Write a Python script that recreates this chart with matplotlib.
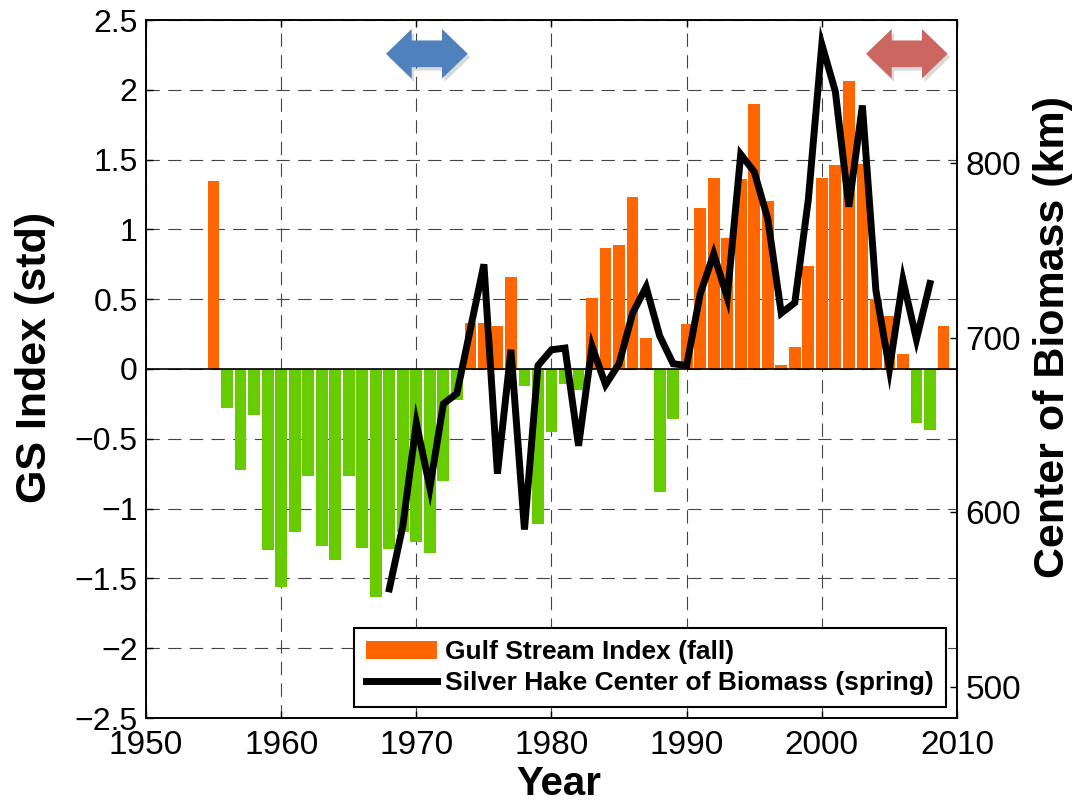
import numpy as np
import matplotlib
matplotlib.use('Agg')
import matplotlib.pyplot as plt
from matplotlib.patches import Polygon, Patch
from matplotlib.lines import Line2D
from matplotlib.ticker import FuncFormatter

plt.rcParams['font.family'] = ['Liberation Sans', 'DejaVu Sans']

# Gulf Stream index (fall), std units
gs_years = list(range(1955, 2010))
gs_index = [1.35, -0.28, -0.72, -0.33, -1.30, -1.56, -1.17, -0.77, -1.27, -1.37,
            -0.77, -1.28, -1.63, -1.29, -1.17, -1.24, -1.32, -0.80, -0.22, 0.33,
            0.33, 0.31, 0.66, -0.12, -1.11, -0.45, -0.11, -0.15, 0.51, 0.87,
            0.89, 1.23, 0.22, -0.88, -0.36, 0.32, 1.15, 1.37, 0.94, 1.36,
            1.90, 1.20, 0.03, 0.16, 0.74, 1.37, 1.46, 2.06, 1.47, 0.50,
            0.38, 0.11, -0.39, -0.44, 0.31]

# Silver hake center of biomass (spring), km
hake_years = list(range(1968, 2009))
hake_cob = [556, 592, 651, 614, 662, 668, 705, 742, 622, 693,
            590, 684, 693, 694, 638, 695, 673, 685, 714, 729,
            701, 685, 684, 725, 748, 723, 805, 795, 768, 714,
            720, 779, 868, 841, 775, 833, 727, 682, 733, 699, 731]

x_ticks = [1950, 1960, 1970, 1980, 1990, 2000, 2010]
left_ticks = [2.5, 2, 1.5, 1, 0.5, 0, -0.5, -1, -1.5, -2, -2.5]
right_ticks = [500, 600, 700, 800]

ORANGE = '#ff6600'
GREEN = '#66cc00'


def double_arrow(ax, x0, x1, yc, color, head=0.0317, half_h=0.0355, half_s=0.0191):
    # two-headed block arrow, axes fraction coordinates
    verts = [(x0, yc), (x0 + head, yc + half_h), (x0 + head, yc + half_s),
             (x1 - head, yc + half_s), (x1 - head, yc + half_h), (x1, yc),
             (x1 - head, yc - half_h), (x1 - head, yc - half_s),
             (x0 + head, yc - half_s), (x0 + head, yc - half_h)]
    shadow = [(vx + 0.003, vy - 0.005) for vx, vy in verts]
    ax.add_patch(Polygon(shadow, closed=True, transform=ax.transAxes,
                         facecolor='#000000', alpha=0.15, edgecolor='none', zorder=5))
    ax.add_patch(Polygon(verts, closed=True, transform=ax.transAxes,
                         facecolor=color, edgecolor='none', zorder=6))


fig = plt.figure(figsize=(10.77, 8.07), dpi=100)
ax1 = fig.add_axes([146/1077, 1 - 718/807, 811/1077, 698/807])

colors = [ORANGE if v >= 0 else GREEN for v in gs_index]
ax1.bar(gs_years, gs_index, width=0.87, color=colors, edgecolor='none', zorder=2)
ax1.axhline(0, color='k', lw=1.2, zorder=3)

ax1.set_xlim(1950, 2010)
ax1.set_ylim(-2.5, 2.5)
ax1.set_xticks(x_ticks)
ax1.set_yticks(left_ticks)
ax1.yaxis.set_major_formatter(FuncFormatter(lambda v, p: ('%g' % v).replace('-', '\u2212')))
ax1.grid(True, color='#444444', lw=0.8, linestyle=(0, (12, 7.5)), zorder=1)
ax1.set_axisbelow(True)
ax1.tick_params(axis='x', direction='in', length=5, width=1, top=True, labelsize=24, pad=9)
ax1.tick_params(axis='y', direction='in', length=5, width=1, right=True, labelsize=23, pad=6)
for s in ax1.spines.values():
    s.set_linewidth(1.2)

ax1.set_ylabel('GS Index (std)', fontsize=31, fontweight='bold')
ax1.yaxis.set_label_coords(-0.112, 0.516)
ax1.set_xlabel('Year', fontsize=29, fontweight='bold')
ax1.xaxis.set_label_coords(0.509, -0.068)

ax2 = ax1.twinx()
ax2.plot(hake_years, hake_cob, color='k', lw=5, solid_joinstyle='miter', zorder=4)
ax2.set_ylim(482, 882)
ax2.set_yticks(right_ticks)
ax2.tick_params(axis='y', direction='in', length=5, width=1, labelsize=24, pad=6)
ax2.set_ylabel('Center of Biomass (km)', fontsize=31, fontweight='bold')
ax2.yaxis.set_label_coords(1.094, 0.546)
for s in ax2.spines.values():
    s.set_linewidth(1.2)

double_arrow(ax2, 0.2959, 0.3967, 0.9516, '#4f81bd')
double_arrow(ax2, 0.8878, 0.9885, 0.9516, '#cc6661')

handles = [Patch(facecolor=ORANGE, edgecolor='none'),
           Line2D([], [], color='k', lw=5)]
labels = ['Gulf Stream Index (fall)', 'Silver Hake Center of Biomass (spring)']
leg = ax2.legend(handles, labels, loc='lower right', bbox_to_anchor=(0.9864, 0.0162),
                 borderaxespad=0, fancybox=False, framealpha=1, edgecolor='k',
                 prop={'weight': 'bold', 'size': 19}, handlelength=2.7,
                 handletextpad=0.3, borderpad=0.45, labelspacing=0.25)
leg.get_frame().set_linewidth(1.5)
leg.set_zorder(10)

fig.savefig('out.png', dpi=100)
